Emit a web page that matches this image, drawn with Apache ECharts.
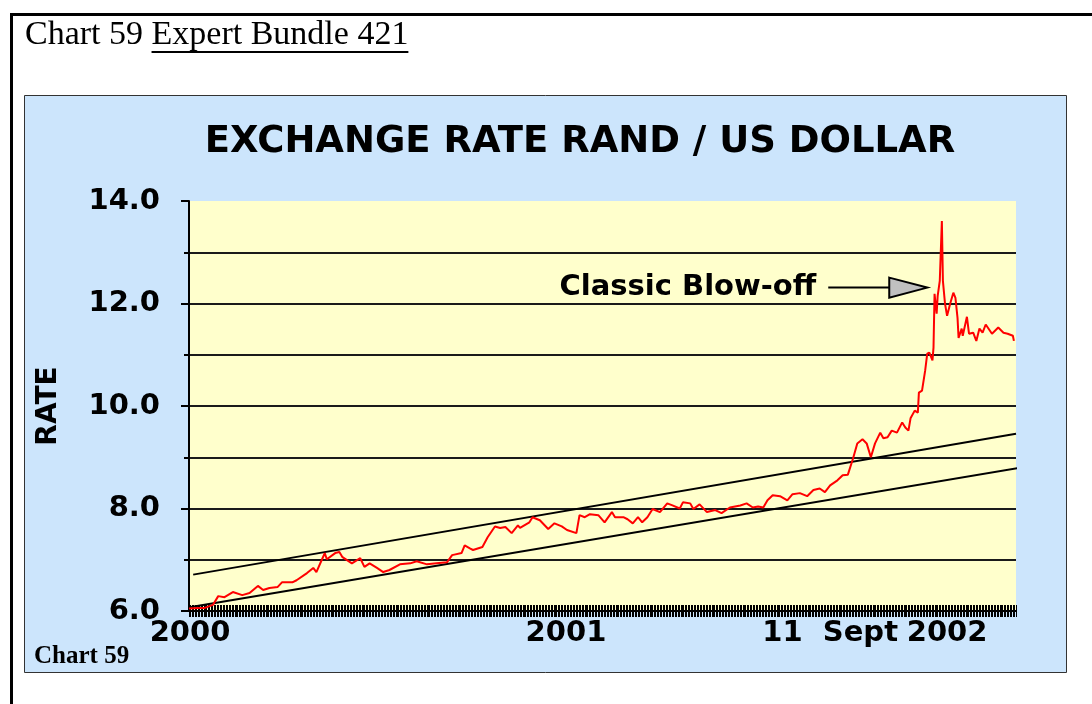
<!DOCTYPE html>
<html>
<head>
<meta charset="utf-8">
<title>Exchange rate rand / US dollar</title>
<script src="https://cdn.jsdelivr.net/npm/echarts@6/dist/echarts.min.js"></script>
<style>
  html, body { margin: 0; padding: 0; background: #fff; }
  #chart { width: 1092px; height: 704px; }
</style>
</head>
<body>
<div id="chart"></div>
<script>
// rand per US dollar
const rateDates = [
  '2000-01-06', '2000-01-14', '2000-01-21', '2000-01-29', '2000-02-03', '2000-02-09', '2000-02-17', '2000-02-26', '2000-03-04', '2000-03-12',
  '2000-03-17', '2000-03-23', '2000-03-31', '2000-04-04', '2000-04-14', '2000-04-18', '2000-04-28', '2000-05-04', '2000-05-07', '2000-05-12',
  '2000-05-15', '2000-05-17', '2000-05-25', '2000-05-29', '2000-06-01', '2000-06-10', '2000-06-18', '2000-06-22', '2000-06-27', '2000-07-04',
  '2000-07-10', '2000-07-16', '2000-07-26', '2000-08-05', '2000-08-11', '2000-08-21', '2000-08-30', '2000-09-09', '2000-09-14', '2000-09-23',
  '2000-09-26', '2000-10-01', '2000-10-04', '2000-10-13', '2000-10-18', '2000-10-25', '2000-10-30', '2000-11-04', '2000-11-10', '2000-11-16',
  '2000-11-18', '2000-11-27', '2000-11-30', '2000-12-07', '2000-12-15', '2000-12-21', '2000-12-28', '2001-01-02', '2001-01-11', '2001-01-14',
  '2001-01-19', '2001-01-24', '2001-02-01', '2001-02-07', '2001-02-14', '2001-02-17', '2001-02-25', '2001-03-01', '2001-03-06', '2001-03-11',
  '2001-03-15', '2001-03-20', '2001-03-25', '2001-04-01', '2001-04-08', '2001-04-13', '2001-04-20', '2001-04-23', '2001-04-30', '2001-05-03',
  '2001-05-09', '2001-05-16', '2001-05-24', '2001-05-30', '2001-06-07', '2001-06-17', '2001-06-23', '2001-06-29', '2001-07-04', '2001-07-09',
  '2001-07-13', '2001-07-18', '2001-07-25', '2001-08-01', '2001-08-06', '2001-08-13', '2001-08-20', '2001-08-26', '2001-09-01', '2001-09-06',
  '2001-09-11', '2001-09-18', '2001-09-23', '2001-09-28', '2001-10-03', '2001-10-07', '2001-10-12', '2001-10-16', '2001-10-20', '2001-10-24',
  '2001-10-29', '2001-11-01', '2001-11-05', '2001-11-09', '2001-11-14', '2001-11-19', '2001-11-22', '2001-11-25', '2001-11-27', '2001-12-01',
  '2001-12-04', '2001-12-05', '2001-12-08', '2001-12-11', '2001-12-13', '2001-12-15', '2001-12-18', '2001-12-19', '2001-12-20', '2001-12-22',
  '2001-12-23', '2001-12-25', '2001-12-27', '2001-12-28', '2001-12-30', '2002-01-01', '2002-01-04', '2002-01-07', '2002-01-09', '2002-01-11',
  '2002-01-12', '2002-01-15', '2002-01-16', '2002-01-20', '2002-01-22', '2002-01-26', '2002-01-29', '2002-02-01', '2002-02-04', '2002-02-07',
  '2002-02-13', '2002-02-19', '2002-02-24', '2002-02-28', '2002-03-05', '2002-03-06'
];
const rateValues = [
  6.05, 6.06, 6.06, 6.12, 6.29, 6.27, 6.37, 6.31, 6.35, 6.49,
  6.41, 6.45, 6.47, 6.56, 6.56, 6.60, 6.74, 6.84, 6.76, 6.99,
  7.13, 7.01, 7.13, 7.15, 7.05, 6.93, 7.03, 6.86, 6.93, 6.84,
  6.76, 6.80, 6.91, 6.93, 6.97, 6.91, 6.93, 6.95, 7.09, 7.13,
  7.28, 7.22, 7.19, 7.25, 7.44, 7.65, 7.62, 7.64, 7.52, 7.67,
  7.62, 7.73, 7.83, 7.77, 7.60, 7.71, 7.65, 7.58, 7.52, 7.87,
  7.83, 7.89, 7.87, 7.73, 7.93, 7.83, 7.83, 7.79, 7.71, 7.83,
  7.73, 7.83, 7.99, 7.93, 8.10, 8.06, 8.00, 8.12, 8.10, 7.99,
  8.08, 7.93, 7.97, 7.91, 8.02, 8.06, 8.10, 8.02, 8.04, 8.02,
  8.16, 8.26, 8.24, 8.16, 8.28, 8.30, 8.24, 8.36, 8.39, 8.32,
  8.45, 8.55, 8.65, 8.66, 8.98, 9.27, 9.35, 9.27, 9.00, 9.27,
  9.48, 9.37, 9.39, 9.52, 9.48, 9.68, 9.58, 9.52, 9.76, 9.91,
  9.87, 10.26, 10.30, 10.69, 11.02, 11.04, 10.89, 11.14, 12.19, 11.80,
  12.15, 12.44, 13.61, 12.44, 12.00, 11.76, 12.00, 12.21, 12.11, 11.72,
  11.33, 11.51, 11.37, 11.74, 11.41, 11.43, 11.27, 11.51, 11.43, 11.59,
  11.41, 11.53, 11.43, 11.41, 11.37, 11.27
];

// the two hand-drawn channel lines
const upperTrendDates = ['2000-01-10', '2002-03-08'];
const upperTrendValues = [6.71, 9.46];
const lowerTrendDates = ['2000-01-08', '2002-03-13'];
const lowerTrendValues = [6.08, 8.80];

const xLabelDates = ['2000-01-07', '2001-01-01', '2001-09-11', '2002-01-01'];
const xLabelTexts = ['2000', '2001', '11  Sept', '2002'];

// where the "Classic Blow-off" arrow points
const noteDate = '2001-12-13';
const noteRate = 12.31;

const sans = '"DejaVu Sans", sans-serif';
const serif = '"Liberation Serif", "Times New Roman", serif';

// x runs on plain timestamps so the axis can carry custom label positions
function ts(d) { return +new Date(d + 'T00:00:00'); }
function pairs(dates, values) { return dates.map(function (d, i) { return [ts(d), values[i]]; }); }

const chart = echarts.init(document.getElementById('chart'));

chart.setOption({
  backgroundColor: '#ffffff',
  animation: false,
  title: {
    text: 'EXCHANGE RATE RAND / US DOLLAR',
    left: 575,
    top: 119,
    textAlign: 'center',
    textStyle: { fontFamily: sans, fontWeight: 'bold', fontSize: 37, color: '#000' }
  },
  grid: {
    left: 189, top: 201, right: 76, bottom: 93,
    show: true, backgroundColor: '#ffffcc', borderWidth: 0
  },
  xAxis: [
    {
      type: 'value',
      position: 'bottom',
      min: ts('2000-01-06'),
      max: ts('2002-03-08'),
      axisLine: { onZero: false, lineStyle: { color: '#000', width: 2 } },
      axisTick: { show: false },
      splitLine: { show: false },
      axisLabel: {
        customValues: xLabelDates.map(ts),
        formatter: function (v) {
          const i = xLabelDates.findIndex(function (d) { return Math.abs(ts(d) - v) < 43200000; });
          return i < 0 ? '' : xLabelTexts[i];
        },
        margin: 8,
        color: '#000', fontFamily: sans, fontWeight: 'bold', fontSize: 29
      }
    },
    {
      // the dense tick band along the bottom of the plot
      type: 'value', position: 'bottom', min: 0, max: 560, interval: 1, offset: -6,
      axisLine: { show: false, onZero: false },
      axisTick: { show: true, length: 12, lineStyle: { color: '#000', width: 1 } },
      axisLabel: { show: false },
      splitLine: { show: false }
    }
  ],
  yAxis: {
    type: 'value', min: 6, max: 14, interval: 2,
    name: 'RATE', nameLocation: 'middle', nameRotate: 90, nameGap: 126,
    nameTextStyle: { fontFamily: sans, fontWeight: 'bold', fontSize: 28, color: '#000' },
    axisLine: { show: true, onZero: false, lineStyle: { color: '#000', width: 2 } },
    axisTick: { show: true, length: 8, lineStyle: { color: '#000', width: 2 } },
    minorTick: { show: true, splitNumber: 2, length: 5, lineStyle: { color: '#000', width: 2 } },
    splitLine: { show: true, showMinLine: false, showMaxLine: false, lineStyle: { color: '#1a1a1a', width: 2 } },
    minorSplitLine: { show: true, lineStyle: { color: '#1a1a1a', width: 2 } },
    axisLabel: {
      formatter: function (v) { return v.toFixed(1); },
      margin: 29,
      color: '#000', fontFamily: sans, fontWeight: 'bold', fontSize: 29
    }
  },
  series: [
    {
      type: 'line', data: pairs(upperTrendDates, upperTrendValues),
      symbol: 'none', silent: true,
      lineStyle: { color: '#000', width: 2 }
    },
    {
      type: 'line', data: pairs(lowerTrendDates, lowerTrendValues),
      symbol: 'none', silent: true, clip: false,
      lineStyle: { color: '#000', width: 2 }
    },
    {
      name: 'Rand / US dollar',
      type: 'line', data: pairs(rateDates, rateValues),
      symbol: 'none', silent: true,
      lineStyle: { color: '#ff0000', width: 2 }
    }
  ]
});

// header: "Chart 59" then the underlined bundle name
const headFont = '34px ' + serif;
const measure = document.createElement('canvas').getContext('2d');
measure.font = headFont;
const headLead = 'Chart 59 ';
const headLink = 'Expert Bundle 421';
const leadWidth = measure.measureText(headLead).width;
const linkWidth = measure.measureText(headLink).width;

const tip = chart.convertToPixel({ seriesIndex: 2 }, [ts(noteDate), noteRate]);

chart.setOption({
  graphic: [
    // page frame
    { type: 'line', z: -20, shape: { x1: 11.5, y1: 13, x2: 11.5, y2: 704 }, style: { stroke: '#000', lineWidth: 3 } },
    { type: 'line', z: -20, shape: { x1: 10, y1: 14.5, x2: 1092, y2: 14.5 }, style: { stroke: '#000', lineWidth: 3 } },
    // chart panel
    { type: 'rect', z: -10, shape: { x: 24.5, y: 95.5, width: 1042, height: 577 },
      style: { fill: '#cce5fc', stroke: '#333', lineWidth: 1 } },
    { type: 'text', z: 10, x: 25, y: 35,
      style: { text: headLead, font: headFont, fill: '#000', verticalAlign: 'middle' } },
    { type: 'text', z: 10, x: 25 + leadWidth, y: 35,
      style: { text: headLink, font: headFont, fill: '#000', verticalAlign: 'middle' } },
    { type: 'line', z: 10, shape: { x1: 25 + leadWidth, y1: 52, x2: 25 + leadWidth + linkWidth, y2: 52 },
      style: { stroke: '#000', lineWidth: 2 } },
    { type: 'text', z: 10, x: 34, y: 657,
      style: { text: 'Chart 59', font: 'bold 25px ' + serif, fill: '#000', verticalAlign: 'middle' } },
    // annotation
    { type: 'text', z: 10, x: tip[0] - 111, y: tip[1],
      style: { text: 'Classic Blow-off', font: 'bold 29px ' + sans, fill: '#000', align: 'right', verticalAlign: 'middle' } },
    { type: 'line', z: 10, shape: { x1: tip[0] - 99, y1: tip[1], x2: tip[0] - 38, y2: tip[1] },
      style: { stroke: '#000', lineWidth: 2 } },
    { type: 'polygon', z: 10, shape: { points: [[tip[0] - 38, tip[1] - 10], [tip[0], tip[1]], [tip[0] - 38, tip[1] + 10]] },
      style: { fill: '#c0c0c0', stroke: '#000', lineWidth: 2 } }
  ]
});
</script>
</body>
</html>
